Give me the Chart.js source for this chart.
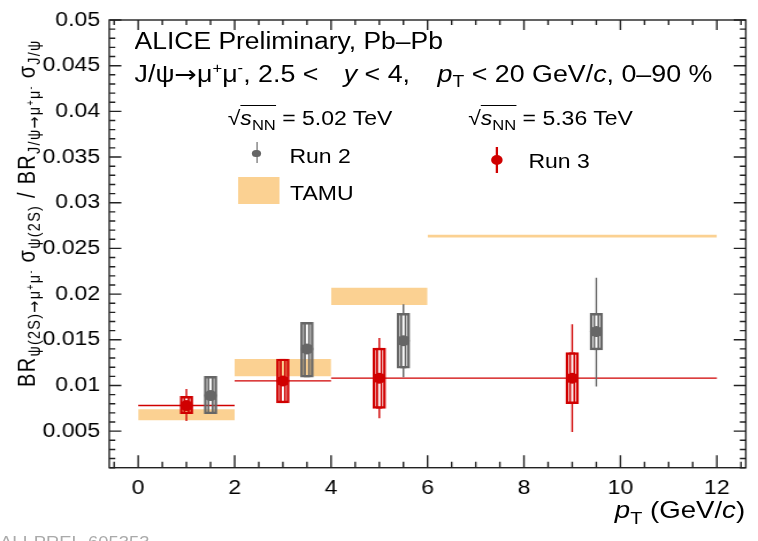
<!DOCTYPE html>
<html>
<head>
<meta charset="utf-8">
<script src="https://cdn.jsdelivr.net/npm/chart.js@4.4.1/dist/chart.umd.min.js"></script>
<style>
html, body { margin: 0; padding: 0; background: #fff; overflow: hidden; }
#wrap {
    position: absolute; left: 0; top: 0; width: 659px; height: 541px;
    transform: scaleX(1.1502); transform-origin: 0 0;
    font-family: 'Liberation Sans', Arial, sans-serif; color: #000;
}
#wrap canvas { position: absolute; left: 0; top: 0; }
.t { position: absolute; white-space: nowrap; line-height: 1; }
.sub { font-size: 0.72em; vertical-align: -0.32em; line-height: 0; }
.sup { font-size: 0.62em; vertical-align: 0.6em; line-height: 0; }
.ov { border-top: 1.3px solid #000; padding-top: 1px; }
.arr { font-family: 'DejaVu Sans', sans-serif; }
.gap { display: inline-block; }
.mk { position: absolute; }
</style>
</head>
<body>
<div id="wrap">
    <canvas id="chart" width="659" height="541"></canvas>

    <div class="t" style="left:117px; top:29.5px; font-size:23px;">ALICE Preliminary, Pb&#8211;Pb</div>
    <div class="t" style="left:117px; top:62px; font-size:23.3px;">J/&#968;<span class="arr">&#8594;</span>&#956;<span class="sup">+</span>&#956;<span class="sup">-</span>, 2.5 &lt;<span class="gap" style="width:22px"></span><i>y</i> &lt; 4,<span class="gap" style="width:24px"></span><i>p</i><span class="sub">T</span> &lt; 20 GeV/<i>c</i>, 0&#8211;90 %</div>

    <div class="t" style="left:198px; top:108px; font-size:20px;">&#8730;<span class="ov"><i>s</i><span class="sub">NN</span></span> = 5.02 TeV</div>
    <div class="t" style="left:407px; top:108px; font-size:20px;">&#8730;<span class="ov"><i>s</i><span class="sub">NN</span></span> = 5.36 TeV</div>

    <div class="mk" style="left:222.6px; top:141.7px; width:1.3px; height:21.6px; background:#666;"></div>
    <div class="mk" style="left:219.4px; top:149.6px; width:7.5px; height:7.5px; border-radius:50%; background:#666;"></div>
    <div class="t" style="left:251.6px; top:145.8px; font-size:20px;">Run 2</div>

    <div class="mk" style="left:207.2px; top:177.3px; width:36.3px; height:26.7px; background:#fbd192;"></div>
    <div class="t" style="left:252.2px; top:183.1px; font-size:20px;">TAMU</div>

    <div class="mk" style="left:431.3px; top:146.7px; width:1.3px; height:26.6px; background:#d00000;"></div>
    <div class="mk" style="left:427px; top:155px; width:10px; height:10px; border-radius:50%; background:#d00000;"></div>
    <div class="t" style="left:459.4px; top:151.4px; font-size:20px;">Run 3</div>

    <div class="t" style="left:12.5px; top:387px; font-size:20px; letter-spacing:1.3px; transform:rotate(-90deg); transform-origin:0 0;">BR<span class="sub">&#968;(2S)<span class="arr">&#8594;</span>&#956;<span class="sup">+</span>&#956;<span class="sup">-</span></span> &#963;<span class="sub">&#968;(2S)</span> / BR<span class="sub">J/&#968;<span class="arr">&#8594;</span>&#956;<span class="sup">+</span>&#956;<span class="sup">-</span></span> &#963;<span class="sub">J/&#968;</span></div>

    <div class="t" style="right:11.2px; top:497.7px; font-size:24px;"><i>p</i><span class="sub">T</span> (GeV/<i>c</i>)</div>

    <div class="t" style="left:0px; top:534.7px; font-size:16px; color:#aaa;">ALI-PREL-605353</div>
</div>

<script>
// Ejes
const xTicks = [0, 2, 4, 6, 8, 10, 12];
const xTickLabels = ['0', '2', '4', '6', '8', '10', '12'];
const yTicks = [0.005, 0.01, 0.015, 0.02, 0.025, 0.03, 0.035, 0.04, 0.045, 0.05];
const yTickLabels = ['0.005', '0.01', '0.015', '0.02', '0.025', '0.03', '0.035', '0.04', '0.045', '0.05'];

// TAMU (bandas por intervalo de pT)
const tamuBinLo = [0, 2, 4, 6];
const tamuBinHi = [2, 4, 6, 12];
const tamuLo = [0.0062, 0.0110, 0.0188, 0.0262];
const tamuHi = [0.0074, 0.0129, 0.0207, 0.0265];

// Run 3 (5.36 TeV)
const run3X = [1, 3, 5, 9];
const run3BinLo = [0, 2, 4, 6];
const run3BinHi = [2, 4, 6, 12];
const run3Y = [0.0078, 0.0105, 0.0108, 0.0108];
const run3StatLo = [0.0061, 0.0090, 0.0064, 0.0049];
const run3StatHi = [0.0096, 0.0120, 0.0152, 0.0167];
const run3SysLo = [0.0069, 0.0081, 0.0075, 0.0080];
const run3SysHi = [0.0088, 0.0129, 0.0141, 0.0136];

// Run 2 (5.02 TeV)
const run2X = [1.5, 3.5, 5.5, 9.5];
const run2Y = [0.0089, 0.0140, 0.0149, 0.0159];
const run2StatLo = [0.0075, 0.0125, 0.0109, 0.0099];
const run2StatHi = [0.0103, 0.0155, 0.0189, 0.0218];
const run2SysLo = [0.0069, 0.0109, 0.0119, 0.0139];
const run2SysHi = [0.0110, 0.0169, 0.0179, 0.0179];

const RED = '#d00000';
const GREY = '#666666';
const ORANGE = '#fbd192';

Chart.defaults.font.family = "'Liberation Sans', Arial, sans-serif";
Chart.defaults.font.size = 20;
Chart.defaults.color = '#000';

// segmentos verticales de la barra estadística que quedan fuera de la caja
function statSegments(xs, statLo, statHi, sysLo, sysHi) {
    const pts = [];
    xs.forEach((x, i) => {
        if (statLo[i] < sysLo[i]) pts.push({ x: x, y: statLo[i] }, { x: x, y: sysLo[i] }, { x: x, y: null });
        if (statHi[i] > sysHi[i]) pts.push({ x: x, y: sysHi[i] }, { x: x, y: statHi[i] }, { x: x, y: null });
    });
    return pts;
}

function binSegments(lo, hi, ys) {
    const pts = [];
    ys.forEach((y, i) => {
        pts.push({ x: lo[i], y: y }, { x: hi[i], y: y }, { x: hi[i], y: null });
    });
    return pts;
}

function boxes(xs, lo, hi) {
    return xs.map((x, i) => ({ x: x, y: [lo[i], hi[i]] }));
}

const datasets = [];

// bandas TAMU
tamuLo.forEach((lo, i) => {
    datasets.push({
        type: 'line',
        data: [{ x: tamuBinLo[i], y: tamuHi[i] }, { x: tamuBinHi[i], y: tamuHi[i] }],
        borderWidth: 0,
        borderColor: 'rgba(0,0,0,0)',
        backgroundColor: ORANGE,
        fill: { value: lo },
        pointRadius: 0,
        order: 10
    });
});

function lineSet(data, color) {
    return {
        type: 'line', data: data, borderColor: color, borderWidth: 1.4,
        pointRadius: 0, fill: false, spanGaps: false, tension: 0, order: 5
    };
}

function boxSet(data, color, thick, width) {
    return {
        type: 'bar', data: data, borderColor: color, backgroundColor: 'rgba(0,0,0,0)',
        borderWidth: width, borderSkipped: false, barThickness: thick, grouped: false, order: 4
    };
}

datasets.push(lineSet(statSegments(run2X, run2StatLo, run2StatHi, run2SysLo, run2SysHi), GREY));
datasets.push(lineSet(statSegments(run3X, run3StatLo, run3StatHi, run3SysLo, run3SysHi), RED));
datasets.push(lineSet(binSegments(run3BinLo, run3BinHi, run3Y), RED));

datasets.push(boxSet(boxes(run2X, run2SysLo, run2SysHi), GREY, 11, 1.8));
datasets.push(boxSet(boxes(run2X, run2SysLo, run2SysHi), GREY, 5, 1.2));
datasets.push(boxSet(boxes(run3X, run3SysLo, run3SysHi), RED, 11, 1.8));
datasets.push(boxSet(boxes(run3X, run3SysLo, run3SysHi), RED, 5, 1.2));

datasets.push({
    type: 'scatter', data: run2X.map((x, i) => ({ x: x, y: run2Y[i] })),
    pointRadius: 5.5, backgroundColor: GREY, borderWidth: 0, order: 1
});
datasets.push({
    type: 'scatter', data: run3X.map((x, i) => ({ x: x, y: run3Y[i] })),
    pointRadius: 5.5, backgroundColor: RED, borderWidth: 0, order: 1
});

// marco y marcas hacia dentro, estilo ROOT
const framePlugin = {
    id: 'frame',
    afterDraw(chart) {
        const { ctx, chartArea: a, scales: { x, y } } = chart;
        ctx.save();
        ctx.strokeStyle = '#222';
        ctx.lineWidth = 1.4;
        ctx.strokeRect(a.left, a.top, a.right - a.left, a.bottom - a.top);
        ctx.beginPath();
        for (let v = 0.001; v <= 0.0501; v += 0.001) {
            const py = y.getPixelForValue(v);
            const major = Math.abs(v / 0.005 - Math.round(v / 0.005)) < 1e-6;
            const len = major ? 10.5 : 5.2;
            ctx.moveTo(a.left, py); ctx.lineTo(a.left + len, py);
            ctx.moveTo(a.right, py); ctx.lineTo(a.right - len, py);
        }
        for (let v = -0.5; v <= 12.51; v += 0.5) {
            const px = x.getPixelForValue(v);
            const major = Math.abs(v / 2 - Math.round(v / 2)) < 1e-6;
            const len = major ? 12.5 : 6;
            ctx.moveTo(px, a.bottom); ctx.lineTo(px, a.bottom - len);
            ctx.moveTo(px, a.top); ctx.lineTo(px, a.top + (major ? 10 : 5));
        }
        ctx.stroke();
        ctx.restore();
    }
};

new Chart(document.getElementById('chart'), {
    type: 'scatter',
    data: { datasets: datasets },
    options: {
        responsive: false,
        animation: false,
        devicePixelRatio: 1,
        layout: { padding: { top: 12.7, right: 10.6, left: 0, bottom: 0 } },
        plugins: { legend: { display: false }, tooltip: { enabled: false } },
        scales: {
            x: {
                type: 'linear', min: -0.6, max: 12.6, offset: false,
                grid: { display: false, drawTicks: false }, border: { display: false },
                afterBuildTicks: s => { s.ticks = xTicks.map(v => ({ value: v })); },
                afterFit: s => { s.height = 73.3; },
                ticks: {
                    padding: 9, autoSkip: false, maxRotation: 0,
                    callback: (v) => xTickLabels[xTicks.indexOf(v)]
                }
            },
            y: {
                type: 'linear', min: 0.001, max: 0.05,
                grid: { display: false, drawTicks: false }, border: { display: false },
                afterBuildTicks: s => { s.ticks = yTicks.map(v => ({ value: v })); },
                afterFit: s => { s.width = 95; },
                ticks: {
                    padding: 8,
                    callback: (v) => yTickLabels[yTicks.indexOf(v)]
                }
            }
        }
    },
    plugins: [framePlugin]
});
</script>
</body>
</html>
